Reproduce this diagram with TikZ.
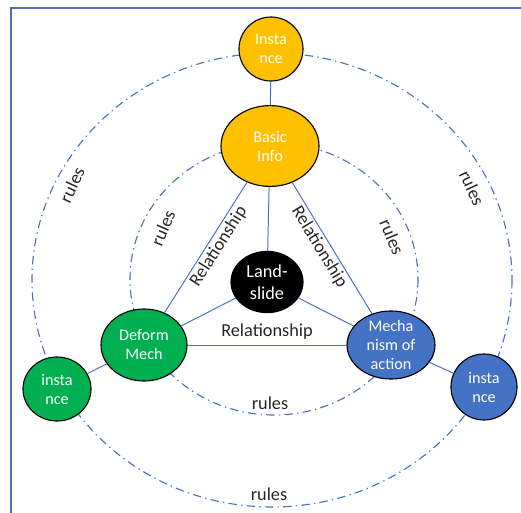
\documentclass[tikz,border=0pt]{standalone}
\usepackage{fontspec}
\setmainfont{Carlito}
\usetikzlibrary{shapes.geometric}

\definecolor{infoorange}{RGB}{255,192,0}
\definecolor{mechgreen}{RGB}{0,176,80}
\definecolor{actionblue}{RGB}{68,114,196}
\definecolor{linkblue}{RGB}{68,114,196}
\definecolor{frameblue}{RGB}{79,113,180}

\tikzset{
    bubble/.style={draw=black,
        line width=0.8pt,
        ellipse,
        inner sep=-4pt,
        align=center,
        text=white,
        font=\fontsize{11.5}{13.5}\selectfont},
    link/.style={draw=linkblue, line width=0.7pt},
    rulering/.style={draw=linkblue,
        line width=0.8pt,
        dash pattern=on 6pt off 3pt on 1pt off 3pt},
    tag/.style={font=\fontsize{13}{15}\selectfont, text=black!85, inner sep=1.5pt}
}

\begin{document}
\begin{tikzpicture}[x=0.025cm, y=-0.025cm]
\useasboundingbox (0,0) rectangle (521,513);

% frame, only top and left edges show
\draw[frameblue, line width=1.3pt] (11,513) -- (11,8) -- (521,8);

% the two rule rings, drawn first so the nodes cover them
\draw[rulering] (272,280) ellipse [x radius=240, y radius=227];
\draw[rulering] (274,279) ellipse [x radius=144, y radius=136];

% top instance
\node[bubble,
    fill=infoorange,
    minimum width=1.6cm,
    minimum height=1.6cm] (instTop) at (271,49) {Insta\\nce};

% basic info
\node[bubble,
    fill=infoorange,
    minimum width=2.45cm,
    minimum height=2.02cm] (basic) at (270,146) {Basic\\Info};

% landslide in the middle
\node[bubble,
    fill=black,
    minimum width=1.8cm,
    minimum height=1.53cm,
    font=\fontsize{13}{15.5}\selectfont] (slide) at (267,282) {Land-\\slide};

% deformation mechanism
\node[bubble,
    fill=mechgreen,
    minimum width=2.15cm,
    minimum height=1.8cm] (deform) at (144,345) {Deform\\Mech};

% mechanism of action
\node[bubble,
    fill=actionblue,
    minimum width=2.2cm,
    minimum height=1.7cm] (action) at (391,345) {Mecha\\nism of\\action};

% left and right instances
\node[bubble,
    fill=mechgreen,
    minimum width=1.7cm,
    minimum height=1.6cm] (instLeft) at (57,389) {insta\\nce};
\node[bubble,
    fill=actionblue,
    minimum width=1.65cm,
    minimum height=1.65cm] (instRight) at (484,387) {insta\\nce};

% links
\draw[link] (instTop) -- (basic);
\draw[link] (basic) -- (slide);
\draw[link] (deform) -- node[tag, sloped, below, pos=0.55] (relLeft) {Relationship} (basic);
\draw[link] (basic) -- node[tag, sloped, below, pos=0.45] (relRight) {Relationship} (action);
\draw[link] (deform) -- node[tag, above, yshift=2pt] (relBottom) {Relationship} (action);
\draw[link] (slide) -- (deform);
\draw[link] (slide) -- (action);
\draw[link] (deform) -- (instLeft);
\draw[link] (action) -- (instRight);

% rules labels on the rings
\node[tag, rotate=65] (rulesOutL) at (72,185) {rules};
\node[tag, rotate=-65] (rulesOutR) at (472,188) {rules};
\node[tag] (rulesOutB) at (269,494) {rules};
\node[tag, rotate=67] (rulesInL) at (163,228) {rules};
\node[tag, rotate=-67] (rulesInR) at (392,237) {rules};
\node[tag] (rulesInB) at (270,403) {rules};

\end{tikzpicture}
\end{document}
